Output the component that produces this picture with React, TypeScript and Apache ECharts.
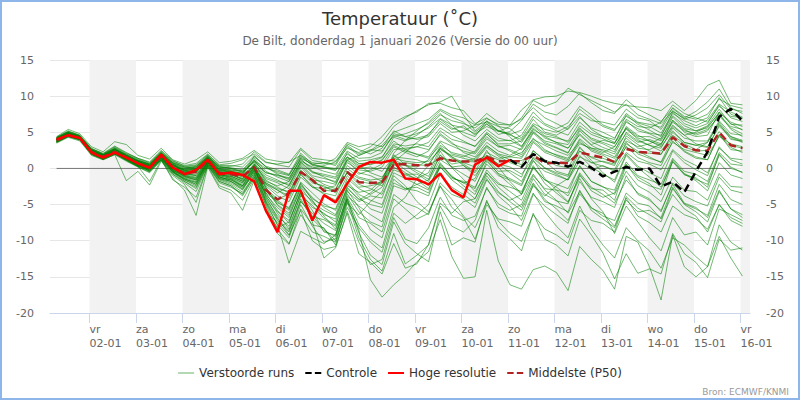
import React, { useEffect, useRef } from "react";
import * as echarts from "echarts";

// ---- time axis (hours since 1 Jan 2026 00:00 local) ----
const START_HOUR = 7;
const STEP_HOURS = 6;
const X_MIN = 3.6;
const X_MAX = 364.9;
const DAY_TICKS = [24, 48, 72, 96, 120, 144, 168, 192, 216, 240, 264, 288, 312, 336, 360];
const DAY_NAMES = ["vr", "za", "zo", "ma", "di", "wo", "do", "vr", "za", "zo", "ma", "di", "wo", "do", "vr"];
const DAY_DATES = ["02-01", "03-01", "04-01", "05-01", "06-01", "07-01", "08-01", "09-01", "10-01", "11-01", "12-01", "13-01", "14-01", "15-01", "16-01"];
const SHADED_BANDS: [number, number][] = [[24, 48], [72, 96], [120, 144], [168, 192], [216, 240], [264, 288], [312, 336], [360, X_MAX]];
const ZERO_LINE_END_INDEX = 58;

// ---- y axis ----
const Y_MIN = -20;
const Y_MAX = 15;
const Y_STEP = 5;

// ---- series values ----
const HRES = [4.0, 4.6, 4.2, 2.2, 1.5, 2.2, 1.5, 0.7, 0.1, 1.9, 0.1, -0.8, -0.2, 1.2, -0.8, -0.55, -0.9, -1.8, -5.8, -8.8, -3.1, -3.1, -7.2, -3.7, -4.7, -2.1, 0.2, 0.9, 0.8, 1.2, -1.4, -1.5, -2.2, -0.7, -3.0, -4.0, 0.55, 1.5, 0.3, 1.2];

const CONTROL_START_INDEX = 39;
const CONTROL = [1.2, 0.2, 2.0, 1.0, 0.8, 0.25, 0.9, 0.1, -1.1, -0.45, 0.2, -0.2, 0.0, -2.5, -1.85, -3.3, -0.4, 2.3, 7.15, 8.25, 6.55];

const P50 = [3.9, 4.6, 4.2, 2.3, 1.6, 2.3, 1.5, 0.7, 0.1, 1.7, 0.1, -0.7, -0.5, 1.1, -0.6, -0.8, -1.1, 0.2, -3.0, -4.3, -3.4, -0.5, -1.6, -3.1, -3.1, -0.5, -1.9, -2.0, -1.9, 0.5, 0.6, 0.45, 0.45, 1.4, 1.1, 0.95, 1.0, 1.6, 1.0, 1.0, 1.0, 1.8, 0.7, 0.8, 0.7, 2.2, 1.85, 1.5, 0.9, 2.7, 2.3, 2.2, 2.05, 4.3, 3.1, 2.5, 2.45, 5.0, 3.2, 2.8];

const PERTURBED: number[][] = [
  [4.2, 5.0, 4.5, 2.6, 1.9, 2.8, 1.9, 1.2, 0.6, 2.2, 0.8, 0.2, 0.4, 1.8, 0.1, 0.3, 0.6, 2.3, 0.9, 0.5, 0.2, 2.6, 1.1, 0.8, 0.4, 3.0, 1.8, 2.5, 3.6, 5.8, 7.0, 8.0, 8.8, 9.2, 10.0, 7.4, 5.2, 6.5, 5.8, 5.5, 4.2, 6.8, 5.0, 4.6, 5.5, 8.2, 6.9, 5.8, 5.2, 7.6, 6.4, 6.1, 5.7, 8.4, 7.2, 6.8, 7.5, 9.6, 8.7, 8.3],
  [3.8, 4.6, 4.2, 2.2, 1.5, 2.6, 1.8, 1.0, 0.3, 2.0, 0.5, -0.2, 0.1, 1.6, -0.1, -0.3, -0.7, 1.2, -0.9, -1.6, -2.4, 0.9, -0.5, -0.8, -1.2, 2.2, 0.6, 0.9, 1.5, 4.3, 3.8, 4.6, 5.8, 7.4, 6.6, 6.2, 5.6, 6.9, 6.1, 6.0, 8.1, 9.5, 9.9, 10.0, 10.7, 10.5, 10.0, 9.4, 9.0, 8.7, 8.5, 8.4, 8.0, 9.3, 8.0, 9.4, 11.5, 12.2, 9.0, 8.8],
  [3.6, 4.4, 4.0, 2.0, 1.3, 2.1, 1.2, 0.4, -0.2, 1.4, -0.4, -1.5, -1.9, 0.9, -1.2, -1.6, -2.4, 0.2, -3.8, -6.2, -8.4, -3.6, -5.8, -8.8, -9.2, -4.4, -8.5, -15.4, -17.8, -16.1, -14.7, -12.9, -11.5, -7.1, -12.2, -15.2, -15.0, -5.8, -12.8, -16.1, -16.7, -14.0, -13.5, -14.4, -16.9, -10.8, -12.6, -14.1, -16.7, -9.4, -10.2, -13.6, -18.2, -9.2, -13.6, -15.0, -13.6, -9.4, -12.4, -14.9],
  [3.9, 4.7, 4.2, 2.3, 1.6, 2.3, 1.4, 0.6, 0.0, 1.5, -0.2, -1.0, -1.4, 1.0, -0.9, -1.2, -2.0, 0.3, -4.6, -7.8, -13.1, -8.7, -9.6, -10.4, -9.2, -3.5, -6.0, -7.4, -8.1, -2.4, -3.0, -2.2, -1.6, 1.8, 0.6, 0.9, 1.4, 3.2, 1.9, 1.2, 0.5, 3.6, 2.2, 1.6, 1.0, 3.9, 2.4, 1.8, 0.9, 4.5, 3.3, 2.4, 1.9, 5.0, 3.6, 3.2, 2.9, 6.0, 4.4, 3.7],
  [4.1, 4.9, 4.4, 2.5, 1.8, 2.5, 1.7, 0.8, 0.2, 1.7, 0.1, -0.7, -1.0, 1.1, -0.6, -0.9, -1.5, 0.4, -2.6, -5.1, -6.5, -2.8, -7.4, -12.4, -11.0, -5.9, -10.2, -13.3, -12.6, -6.8, -9.8, -10.4, -8.2, -4.0, -6.5, -7.2, -6.6, -2.8, -4.9, -5.8, -5.0, -1.4, -3.6, -4.5, -4.9, -0.8, -3.1, -4.0, -3.4, 0.6, -1.6, -2.4, -2.9, 1.2, -0.7, -1.5, -2.2, 1.8, 0.2, -0.6],
  [4.3, 5.2, 4.6, 2.8, 2.0, 3.0, 2.1, 1.4, 0.8, 2.4, 1.0, 0.4, 0.7, 2.0, 0.5, 0.7, 1.2, 2.0, 0.8, 0.6, 0.9, 1.8, 0.4, 0.1, -0.3, 1.6, 0.7, 0.5, 1.1, 3.2, 2.4, 2.0, 1.6, 3.8, 3.1, 2.4, 2.0, 4.1, 3.0, 2.6, 1.9, 4.9, 3.4, 2.8, 2.1, 5.2, 3.7, 2.9, 2.3, 5.8, 4.6, 3.8, 3.2, 6.7, 5.0, 4.4, 4.6, 7.8, 6.2, 5.3],
  [3.7, 4.5, 4.1, 2.1, 1.4, 2.2, 1.3, 0.5, -0.1, 1.6, -0.3, -1.2, -1.6, 0.8, -1.1, -1.8, -2.9, -0.2, -3.1, -4.4, -5.6, -1.9, -3.4, -4.9, -5.8, -2.1, -3.9, -5.6, -6.2, -1.5, -2.8, -3.1, -3.8, 0.4, -1.2, -2.0, -2.8, 1.0, -0.7, -1.4, -2.2, 1.6, 0.1, -0.6, -1.1, 2.4, 0.8, 0.3, -0.2, 3.1, 1.5, 0.8, 0.4, 3.8, 2.3, 1.4, 1.2, 4.6, 2.9, 2.2],
  [3.5, 4.3, 3.8, 1.8, 1.2, 1.9, -1.7, -0.4, -2.3, 1.0, -1.0, -2.2, -4.7, 0.4, -2.0, -2.6, -3.5, -0.9, -5.2, -9.0, -10.5, -5.6, -7.8, -8.2, -10.6, -4.8, -6.4, -4.6, -3.2, 0.9, 2.2, 3.6, 4.8, 6.5, 5.4, 5.9, 4.6, 6.1, 5.2, 4.7, 5.3, 7.8, 6.2, 5.5, 6.3, 8.6, 7.4, 6.0, 5.4, 7.2, 6.3, 5.8, 4.9, 7.6, 6.6, 5.9, 6.7, 8.9, 7.8, 7.1],
  [3.9, 4.6, 4.1, 2.2, 1.5, 2.1, 1.1, 0.2, -0.5, 1.2, -1.4, -3.0, -6.5, 0.2, -2.7, -3.4, -5.8, -1.6, -6.1, -7.4, -9.3, -4.5, -6.7, -7.1, -8.0, -3.2, -4.6, -3.8, -4.1, 0.2, -0.9, -1.4, -0.6, 2.8, 1.4, 0.6, -0.4, 2.5, 0.2, -1.8, -3.5, 0.4, -2.1, -3.4, -4.7, -1.0, -2.8, -3.0, -4.4, 0.5, -1.2, -2.1, -3.7, 1.0, -0.9, -1.3, -2.6, 2.0, 0.0, -0.5],
  [4.0, 4.8, 4.3, 2.4, 1.7, 2.6, 1.7, 0.9, 0.3, 1.9, 0.4, -0.3, -0.1, 1.4, -0.2, -0.4, -0.8, 1.0, -0.6, -0.9, -1.3, 1.2, 0.0, 0.4, 0.9, 2.8, 2.2, 3.0, 4.4, 6.3, 7.2, 7.8, 9.0, 9.0, 8.4, 8.0, 6.2, 7.0, 5.9, 4.3, 3.1, 5.2, 3.6, 2.9, 2.2, 4.8, 3.3, 3.9, 3.5, 6.6, 5.2, 4.8, 4.0, 7.1, 5.5, 5.2, 5.9, 8.2, 6.1, 6.0],
  [4.1, 4.8, 4.2, 2.3, 1.6, 2.3, 1.5, 0.8, 0.2, 1.7, 0.2, -0.6, -0.4, 1.2, -0.5, -0.7, -1.1, 0.3, -2.8, -4.2, -3.6, -0.4, -1.5, -3.0, -3.2, -0.6, -1.8, -2.1, -1.9, 0.6, 0.8, 0.5, 0.4, 1.5, 1.1, 1.0, 0.9, 1.8, 1.2, 1.0, 1.1, 2.0, 0.9, 0.8, 0.9, 2.4, 1.6, 1.4, 0.8, 2.9, 2.2, 2.1, 2.0, 4.4, 3.0, 2.4, 2.5, 5.1, 3.2, 2.8],
  [4.2, 4.9, 4.3, 2.5, 1.8, 2.4, 1.6, 0.9, 0.5, 2.1, 0.6, -0.2, -0.6, 1.4, -0.3, -0.5, -0.9, 1.7, 0.2, -0.8, -1.6, 1.4, -0.4, -1.2, -2.0, 1.1, -0.6, -1.0, -1.8, 1.9, 0.5, -0.3, -1.1, 2.4, 0.1, -1.5, -3.2, -0.6, -2.6, -4.0, -5.4, -2.0, -4.3, -5.6, -7.2, -3.5, -5.5, -6.2, -8.0, -4.1, -6.6, -7.5, -8.8, -5.2, -6.4, -7.0, -8.4, -5.0, -6.8, -7.6],
  [3.8, 4.7, 4.2, 2.2, 1.6, 2.3, 1.5, 0.7, 0.1, 1.6, 0.0, -0.9, -1.2, 1.0, -0.8, -1.1, -1.7, 0.2, -3.4, -5.8, -7.6, -3.1, -4.5, -6.4, -7.0, -2.4, -3.3, -3.0, -1.6, 2.1, 3.9, 5.2, 6.4, 8.0, 7.1, 6.4, 5.0, 6.2, 4.7, 5.1, 6.6, 8.9, 7.8, 7.4, 8.6, 10.4, 9.1, 8.0, 7.6, 9.5, 8.2, 7.4, 6.5, 8.3, 7.0, 7.9, 9.2, 11.0, 8.4, 7.6],
  [3.6, 4.5, 4.0, 2.0, 1.3, 2.0, 1.2, 0.3, -0.3, 1.3, -0.5, -1.6, -2.4, 0.6, -1.5, -2.0, -3.0, -0.6, -4.8, -7.8, -9.6, -5.0, -8.0, -10.2, -9.7, -4.2, -8.9, -12.0, -13.3, -7.4, -10.4, -11.8, -12.9, -6.0, -10.6, -9.6, -10.2, -4.4, -8.2, -9.7, -11.4, -6.2, -9.8, -10.6, -12.1, -7.0, -9.2, -11.7, -15.3, -11.8, -14.5, -13.9, -14.6, -9.0, -11.8, -13.0, -15.1, -9.8, -11.3, -11.0],
  [4.4, 5.4, 4.8, 3.0, 2.3, 3.7, 3.3, 1.8, 1.3, 2.8, 1.2, 0.6, 1.2, 2.3, 0.8, 1.0, 1.4, 2.5, 1.3, 1.0, 0.8, 2.8, 1.4, 1.2, 1.0, 3.2, 2.0, 2.6, 2.4, 4.6, 4.0, 4.2, 4.6, 6.8, 5.6, 5.0, 4.4, 6.6, 5.2, 4.8, 3.6, 5.9, 4.5, 4.2, 3.8, 6.4, 5.0, 4.4, 4.0, 7.4, 6.1, 5.3, 4.4, 7.8, 6.2, 5.6, 6.2, 8.8, 7.0, 6.5],
  [4.0, 4.7, 4.2, 2.3, 1.6, 2.2, 1.4, 0.6, 0.0, 1.5, -0.1, -0.9, -0.8, 1.1, -0.9, -1.1, -1.8, -0.3, -2.2, -3.0, -4.1, -0.8, -2.4, -3.6, -4.4, -1.0, -2.6, -2.4, -2.0, 1.2, 0.4, -0.6, -1.5, 1.9, 0.2, -0.8, -1.8, 1.4, -0.4, -0.3, -1.2, 2.5, 1.0, -0.4, -0.9, 3.0, 1.1, -0.6, -1.9, 1.8, 0.1, -1.2, -2.6, 0.9, -0.8, -1.7, -3.1, 0.8, -0.9, -1.4],
  [3.7, 4.4, 4.0, 2.1, 1.3, 2.0, 1.3, 0.4, -0.3, 1.2, -0.6, -1.8, -2.6, 0.5, -1.6, -2.2, -3.3, -1.0, -4.2, -6.6, -8.0, -3.8, -5.1, -6.9, -7.8, -3.0, -5.4, -8.5, -9.6, -4.2, -5.6, -7.0, -6.2, -2.5, -4.3, -6.6, -8.2, -4.6, -7.3, -9.0, -10.1, -6.4, -8.4, -9.2, -10.4, -5.8, -7.2, -7.6, -8.8, -3.9, -5.5, -6.4, -7.4, -2.8, -4.9, -5.6, -6.5, -2.2, -4.3, -5.0],
  [4.2, 4.9, 4.4, 2.5, 1.7, 2.5, 1.6, 1.0, 0.5, 2.0, 0.7, 0.0, 0.3, 1.5, 0.2, 0.1, -0.2, 1.6, 0.3, -0.2, -0.8, 2.1, 0.6, 0.2, 0.0, 2.4, 1.4, 1.5, 2.2, 4.8, 4.4, 4.8, 5.6, 6.9, 6.0, 5.6, 4.8, 5.8, 5.1, 5.8, 7.0, 9.4, 8.6, 9.2, 11.1, 10.2, 9.4, 8.6, 7.8, 8.9, 7.4, 6.8, 6.2, 7.9, 6.9, 6.4, 7.0, 9.8, 7.5, 6.9],
  [3.8, 4.6, 4.1, 2.1, 1.5, 2.0, 1.3, 0.5, -0.2, 1.4, -0.4, -1.3, -1.8, 0.7, -1.3, -1.5, -2.6, -0.4, -4.0, -6.8, -9.2, -5.8, -10.0, -11.2, -10.8, -6.2, -11.8, -13.0, -14.6, -10.4, -13.8, -13.2, -10.5, -4.8, -6.2, -4.6, -4.2, -0.6, -2.2, -2.6, -3.2, 0.0, -1.6, -2.2, -2.8, 0.3, -1.8, -2.5, -3.6, -0.4, -2.4, -3.3, -4.6, -1.2, -3.0, -3.2, -4.4, -0.7, -2.5, -2.6],
  [4.1, 4.8, 4.4, 2.6, 1.9, 2.7, 1.9, 1.1, 0.6, 2.2, 0.7, -0.1, 0.2, 1.7, 0.3, 0.0, -0.4, 0.9, -1.2, -1.8, -2.2, 0.6, -1.0, -1.4, -1.8, 1.5, 0.2, 0.6, 1.2, 3.4, 3.1, 3.4, 3.0, 5.2, 4.0, 3.6, 3.1, 5.0, 3.8, 3.9, 3.0, 5.6, 4.2, 3.6, 3.3, 5.9, 4.7, 4.1, 3.4, 6.4, 5.5, 4.9, 4.6, 7.3, 5.9, 5.2, 5.6, 7.8, 6.4, 5.8],
  [3.9, 4.6, 4.0, 2.0, 1.4, 2.2, 1.4, 0.6, 0.1, 1.6, -0.2, -1.1, -1.5, 0.9, -1.0, -1.4, -2.2, -0.1, -2.6, -4.8, -5.4, -2.2, -4.0, -5.4, -6.4, -1.8, -3.6, -4.4, -5.0, -0.6, -1.4, -2.2, -3.0, 0.6, -1.0, -2.4, -3.6, -0.2, -2.0, -3.2, -4.4, -1.0, -2.8, -3.0, -3.4, 0.4, -1.8, -2.6, -3.0, 0.9, -1.0, -1.6, -2.2, 1.4, -0.4, -0.8, -1.8, 2.2, 0.6, 0.4],
  [4.3, 5.1, 4.5, 2.7, 2.0, 2.9, 2.0, 1.3, 0.7, 2.3, 0.9, 0.2, 0.0, 1.6, 0.0, -0.2, -0.5, 0.8, -1.8, -2.4, -1.8, 1.0, 0.2, -0.4, -0.8, 1.6, 0.4, -0.6, -1.2, 1.0, -0.2, -1.2, -2.4, 0.2, -1.6, -2.8, -4.2, -1.0, -3.2, -4.6, -5.8, -2.4, -3.8, -2.4, -1.4, 1.6, 0.8, 1.0, 0.6, 3.4, 2.4, 1.6, 0.8, 3.6, 2.6, 2.2, 1.8, 4.4, 3.4, 3.0],
  [3.7, 4.5, 4.0, 2.0, 1.4, 2.1, 1.2, 0.3, -1.8, 1.2, -1.6, -2.6, -4.0, 0.3, -2.4, -3.0, -4.4, -1.4, -5.8, -8.2, -7.4, -3.2, -6.6, -8.4, -10.0, -5.4, -8.2, -10.2, -11.6, -6.2, -7.6, -6.4, -5.0, -0.8, -2.6, -3.6, -4.8, -1.4, -3.8, -5.2, -7.2, -3.4, -6.0, -8.0, -9.6, -5.2, -8.4, -10.6, -12.4, -8.2, -10.0, -11.4, -13.8, -9.6, -10.6, -12.2, -13.6, -7.8, -10.2, -11.3],
  [4.0, 4.8, 4.3, 2.4, 1.7, 2.4, 1.6, 0.8, 0.3, 1.8, 0.4, -0.5, -0.3, 1.3, -0.4, -0.6, -1.2, 0.0, -2.2, -3.4, -2.4, 0.4, -1.2, -2.2, -2.8, 0.0, -1.2, -1.6, -1.4, 1.4, 1.0, 0.8, 1.0, 2.6, 1.8, 1.4, 1.0, 2.9, 1.7, 0.8, 0.2, 2.4, 1.2, 0.4, 0.1, 2.8, 1.5, 0.9, 0.4, 3.6, 2.0, 1.4, 0.9, 4.2, 2.4, 1.6, 1.2, 4.7, 2.6, 2.4],
  [4.2, 5.0, 4.4, 2.6, 1.9, 2.8, 1.8, 1.1, 0.5, 2.1, 0.6, -0.3, 0.0, 1.5, -0.2, -0.4, -0.9, 0.5, -2.0, -3.0, -3.8, -0.8, -2.6, -2.8, -2.4, 1.2, 1.8, 2.4, 3.2, 5.0, 5.6, 6.2, 6.8, 8.2, 7.4, 7.0, 6.0, 6.4, 5.2, 4.6, 4.0, 6.2, 5.4, 5.0, 5.8, 7.6, 6.6, 6.4, 6.0, 8.2, 7.0, 6.6, 5.4, 8.0, 6.8, 7.4, 8.4, 10.2, 8.2, 7.9],
  [3.8, 4.6, 4.1, 2.1, 1.4, 2.1, 1.3, 0.4, -0.1, 1.5, -0.4, -1.4, -2.0, 0.8, -1.4, -1.8, -2.8, -0.6, -4.4, -7.0, -8.6, -4.6, -6.2, -7.6, -8.6, -3.8, -5.2, -6.4, -7.4, -2.0, -2.8, -2.6, -3.4, 0.2, -1.4, -1.8, -2.6, 0.6, -1.0, -1.6, -2.4, 1.0, -0.4, -1.0, -1.6, 1.8, 0.2, -0.8, -1.6, 2.0, 0.3, -0.6, -1.4, 2.4, 0.8, -0.2, -1.0, 3.0, 1.2, 0.6],
  [4.1, 4.9, 4.4, 2.5, 1.8, 2.6, 1.7, 1.0, 0.4, 1.9, 0.5, -0.4, -0.2, 1.4, -0.3, -0.5, -0.6, 1.1, 0.0, -0.4, -0.9, 1.6, 0.5, 0.2, -0.2, 2.0, 1.0, 1.2, 1.6, 3.8, 2.6, 1.9, 1.4, 3.2, 2.2, 1.8, 1.2, 3.1, 2.0, 1.6, 1.4, 3.8, 2.4, 1.9, 1.4, 4.1, 2.8, 2.6, 2.0, 5.0, 3.8, 3.2, 2.8, 5.6, 4.2, 3.8, 3.8, 6.6, 4.8, 4.6],
  [3.6, 4.4, 3.9, 1.9, 1.2, 1.9, 1.0, 0.2, -0.6, 1.1, -0.8, -2.0, -3.2, 0.4, -1.8, -2.4, -3.6, -1.2, -5.0, -8.4, -10.4, -6.4, -8.8, -9.4, -10.2, -4.6, -9.6, -12.6, -14.2, -9.0, -13.2, -12.0, -10.6, -5.2, -8.0, -8.8, -7.2, -2.6, -5.4, -6.2, -6.6, -2.2, -4.6, -5.2, -6.0, -1.8, -4.0, -4.6, -5.4, -1.0, -3.6, -4.4, -5.8, -2.2, -4.8, -5.4, -6.8, -3.0, -5.6, -6.4],
  [4.0, 4.7, 4.2, 2.3, 1.6, 2.4, 1.5, 0.7, 0.2, 1.7, 0.2, -0.6, -0.5, 1.2, -0.6, -0.8, -1.4, 0.6, -1.4, -2.0, -2.8, 0.2, -1.6, -1.8, -2.2, 0.8, -0.2, -0.4, 0.2, 2.6, 2.8, 3.0, 2.6, 4.6, 3.4, 2.8, 2.2, 4.4, 3.0, 3.2, 2.6, 5.0, 3.8, 3.4, 2.8, 5.4, 4.2, 3.6, 3.0, 5.6, 4.4, 4.4, 3.8, 6.4, 5.2, 4.8, 5.4, 7.2, 5.6, 4.8],
  [3.9, 4.7, 4.1, 2.2, 1.5, 2.3, 1.4, 0.6, 0.0, 1.5, -0.3, -1.0, -1.3, 1.0, -0.8, -1.3, -2.0, 0.0, -3.6, -5.4, -6.8, -2.6, -4.8, -5.8, -6.6, -2.8, -4.2, -5.0, -5.4, -1.0, -2.4, -4.6, -6.0, -2.4, -5.4, -6.8, -9.8, -5.0, -7.0, -7.4, -8.0, -3.6, -5.2, -6.4, -7.6, -3.0, -5.8, -7.0, -8.2, -4.4, -6.0, -5.8, -6.8, -2.6, -5.0, -6.0, -7.4, -3.2, -5.6, -6.8],
  [4.0, 4.9, 4.3, 2.4, 1.8, 2.7, 1.8, 1.0, 0.4, 2.0, 0.5, -0.4, -0.5, 1.3, -0.5, -0.8, -1.4, 0.6, -1.6, -2.6, -3.4, -0.2, -1.8, -2.6, -3.0, 0.4, -0.8, -0.2, 0.6, 3.0, 2.2, 1.6, 2.4, 4.8, 3.6, 2.2, 1.6, 3.6, 2.4, 1.8, 2.8, 5.4, 4.4, 3.6, 2.8, 4.6, 3.2, 2.4, 1.6, 4.2, 2.8, 2.6, 3.4, 6.0, 4.6, 3.4, 3.0, 5.8, 4.2, 3.6],
  [3.8, 4.6, 4.1, 2.2, 1.5, 2.2, 1.4, 0.5, -0.4, 1.4, -0.6, -1.4, -2.2, 0.8, -1.2, -1.6, -2.4, -0.4, -3.0, -5.0, -6.2, -2.4, -4.2, -5.2, -5.6, -1.4, -2.8, -3.6, -2.6, 0.8, 0.4, 0.2, 1.2, 3.6, 2.0, 1.6, 2.4, 4.8, 3.2, 2.4, 1.6, 4.2, 2.6, 1.8, 1.2, 3.4, 2.8, 2.2, 3.0, 5.6, 4.0, 3.2, 2.4, 4.6, 3.4, 2.6, 3.6, 6.4, 4.4, 3.9],
  [4.3, 5.1, 4.6, 2.7, 2.1, 3.1, 2.2, 1.4, 0.9, 2.5, 1.1, 0.3, 0.5, 1.9, 0.4, 0.4, 0.2, 1.8, 0.2, -0.6, -1.0, 1.8, 0.8, 0.6, 1.4, 3.6, 3.0, 3.4, 3.0, 4.4, 4.8, 5.4, 6.2, 7.6, 6.0, 4.6, 3.8, 5.4, 4.2, 3.8, 4.6, 7.2, 6.0, 5.2, 4.6, 7.0, 5.6, 5.0, 4.2, 6.8, 5.8, 5.6, 6.4, 8.8, 7.6, 7.0, 6.4, 8.6, 7.2, 7.0],
  [3.7, 4.5, 4.0, 2.0, 1.3, 2.0, 1.1, 0.3, -0.4, 1.2, -0.8, -1.8, -2.8, 0.5, -1.8, -2.4, -3.8, -1.2, -4.6, -7.2, -8.8, -4.2, -7.0, -8.6, -9.4, -4.0, -6.8, -7.6, -8.8, -3.6, -4.8, -5.4, -6.4, -2.0, -3.6, -4.2, -5.4, -1.6, -3.4, -4.4, -3.6, 0.2, -1.6, -2.6, -3.8, -0.6, -2.6, -3.6, -4.8, -1.6, -3.4, -4.2, -6.0, -2.0, -3.8, -4.6, -5.2, -1.2, -3.0, -3.4],
  [4.1, 4.9, 4.5, 2.6, 1.9, 2.6, 1.7, 0.9, 0.3, 1.8, 0.4, -0.2, -0.1, 1.5, -0.1, -0.2, -0.3, 1.4, -0.4, -1.2, -1.8, 0.8, -0.6, -1.0, -1.4, 1.2, 0.0, 0.2, -0.4, 1.6, 1.4, 1.2, 0.6, 2.8, 1.6, 0.8, 0.2, 2.2, 1.4, 1.6, 2.2, 4.0, 3.2, 2.4, 1.8, 3.6, 2.6, 2.0, 1.4, 3.8, 3.0, 3.4, 4.2, 6.6, 5.4, 4.6, 5.2, 7.4, 5.8, 5.4],
  [4.0, 4.7, 4.2, 2.3, 1.6, 2.4, 1.6, 0.8, 0.3, 1.9, 0.3, -0.5, -0.6, 1.3, -0.6, -0.8, -1.6, 0.4, -2.4, -3.8, -4.6, -1.2, -2.6, -3.4, -3.8, -0.4, -1.4, -1.8, -2.4, 0.6, -0.6, -1.6, -2.8, 0.8, -1.2, -2.0, -1.4, 1.8, 0.6, -0.6, -1.8, 1.2, -1.4, -3.0, -4.6, -1.4, -4.2, -6.0, -9.0, -5.2, -7.4, -9.6, -11.4, -6.8, -9.2, -8.8, -10.6, -5.6, -6.4, -7.2],
  [4.2, 5.0, 4.4, 2.5, 1.8, 2.7, 1.8, 1.1, 0.6, 2.1, 0.8, 0.1, 0.2, 1.7, 0.2, 0.0, -0.5, 1.1, -0.6, -1.0, -1.4, 1.4, 0.6, 0.8, 0.6, 3.4, 2.6, 2.0, 2.8, 5.2, 4.4, 4.0, 4.4, 6.2, 5.0, 5.2, 6.0, 7.6, 6.4, 6.0, 6.8, 8.4, 7.0, 6.2, 5.4, 7.2, 5.4, 4.4, 3.6, 5.4, 4.2, 3.8, 3.0, 5.2, 3.6, 3.2, 3.6, 6.2, 4.0, 3.8],
  [3.8, 4.6, 4.1, 2.1, 1.5, 2.3, 1.4, 0.6, 0.0, 1.6, -0.2, -1.1, -1.6, 0.9, -1.0, -1.4, -2.4, -0.2, -3.8, -6.0, -7.2, -3.4, -5.4, -6.2, -7.4, -2.6, -4.4, -3.4, -2.0, 1.6, 2.6, 3.0, 3.6, 5.6, 4.6, 3.8, 3.0, 4.8, 3.4, 3.4, 3.8, 6.0, 4.8, 4.4, 3.6, 5.6, 4.0, 3.4, 2.6, 4.8, 3.6, 4.0, 3.4, 5.8, 4.6, 5.0, 5.8, 7.6, 5.4, 4.4],
  [3.9, 4.7, 4.2, 2.2, 1.6, 2.3, 1.5, 0.7, 0.1, 1.6, 0.0, -0.8, -1.0, 1.0, -0.7, -1.0, -1.8, 0.0, -2.0, -2.8, -3.2, -0.4, -2.0, -2.4, -3.4, -0.6, -2.2, -2.8, -3.6, -0.2, -0.8, -0.8, -1.8, 1.2, 0.2, 0.4, -0.6, 1.6, 0.6, 0.2, -0.8, 1.4, 0.0, -0.8, -1.6, 1.0, -0.2, 0.4, -0.4, 2.2, 1.0, 0.6, -0.2, 2.6, 1.2, 0.4, -0.6, 2.8, 1.4, 1.2],
  [3.7, 4.5, 4.0, 2.0, 1.4, 2.1, 1.2, 0.4, -0.2, 1.3, -0.5, -1.6, -2.2, 0.6, -1.4, -1.8, -2.6, -0.8, -3.4, -4.6, -5.8, -2.0, -4.4, -6.6, -8.4, -4.2, -7.8, -9.8, -11.0, -5.4, -4.0, -1.4, 0.4, 3.0, 1.6, 0.4, -1.0, 1.2, -0.8, -2.2, -3.6, -0.8, -3.0, -4.4, -6.2, -3.2, -5.4, -6.6, -7.2, -3.4, -4.8, -5.2, -7.0, -3.6, -5.6, -6.6, -8.8, -5.0, -7.2, -8.0],
];

const hourAt = (i: number) => START_HOUR + STEP_HOURS * i;
const toPairs = (vals: (number | null)[], offset = 0) => vals.map((v, k) => [hourAt(k + offset), v]);

const FONT = "DejaVu Sans";
const ICON_SOLID = "path://M0,0H16V2H0Z";
const ICON_DASH = "path://M0,0H6V2H0ZM9,0H15V2H9Z";

export default function App() {
  const ref = useRef<HTMLDivElement>(null);

  useEffect(() => {
    document.body.style.margin = "0";
    if (!ref.current) return;
    const chart = echarts.init(ref.current, undefined, { renderer: "svg" });

    const memberSeries = PERTURBED.map((m) => ({
      name: "Verstoorde runs",
      type: "line",
      data: toPairs(m),
      symbol: "none",
      silent: true,
      z: 3,
      color: "#b3d9b3",
      lineStyle: { color: "rgba(0,128,0,0.55)", width: 1 },
      emphasis: { disabled: true },
    }));

    const option: any = {
      animation: false,
      textStyle: { fontFamily: FONT },
      title: {
        text: "Temperatuur (˚C)",
        subtext: "De Bilt, donderdag 1 januari 2026 (Versie do 00 uur)",
        left: "center",
        top: 4,
        itemGap: 8,
        textStyle: { fontSize: 18, fontWeight: "normal", color: "#333", fontFamily: FONT },
        subtextStyle: { fontSize: 12, color: "#666", fontFamily: FONT },
      },
      legend: {
        top: 362,
        left: "center",
        itemWidth: 16,
        itemHeight: 12,
        itemGap: 11,
        textStyle: { fontSize: 12, color: "#333", fontFamily: FONT },
        data: [
          { name: "Verstoorde runs", icon: ICON_SOLID, itemStyle: { color: "#b3d9b3", opacity: 1, borderWidth: 0 } },
          { name: "Controle", icon: ICON_DASH, itemStyle: { color: "#000", borderWidth: 0 } },
          { name: "Hoge resolutie", icon: ICON_SOLID, itemStyle: { color: "#ff0000", borderWidth: 0 } },
          { name: "Middelste (P50)", icon: ICON_DASH, itemStyle: { color: "#b22222", borderWidth: 0 } },
        ],
      },
      grid: { left: 50, right: 50, top: 60, bottom: 87 },
      xAxis: {
        type: "value",
        min: X_MIN,
        max: X_MAX,
        splitLine: { show: false },
        axisLine: { show: true, onZero: false, lineStyle: { color: "#ccd6eb" } },
        axisTick: { show: true, customValues: DAY_TICKS, length: 10, lineStyle: { color: "#ccd6eb" } },
        axisLabel: {
          customValues: DAY_TICKS,
          align: "left",
          margin: 9,
          lineHeight: 14,
          fontSize: 11,
          color: "#666",
          fontFamily: FONT,
          formatter: (v: number) => {
            const k = DAY_TICKS.indexOf(Math.round(v));
            return k >= 0 ? DAY_NAMES[k] + "\n" + DAY_DATES[k] : "";
          },
        },
      },
      yAxis: [
        {
          type: "value",
          min: Y_MIN,
          max: Y_MAX,
          interval: Y_STEP,
          axisLine: { show: false },
          axisTick: { show: false },
          splitLine: { lineStyle: { color: "#e6e6e6" } },
          axisLabel: { color: "#666", fontSize: 11, margin: 16, fontFamily: FONT },
        },
        {
          type: "value",
          position: "right",
          min: Y_MIN,
          max: Y_MAX,
          interval: Y_STEP,
          axisLine: { show: false },
          axisTick: { show: false },
          splitLine: { show: false },
          axisLabel: { color: "#666", fontSize: 11, margin: 16, fontFamily: FONT },
        },
      ],
      graphic: [
        {
          type: "rect",
          shape: { x: 1, y: 1, width: 798, height: 398 },
          style: { fill: "none", stroke: "#8fb6ea", lineWidth: 2 },
          silent: true,
          z: 100,
        },
        {
          type: "text",
          right: 11,
          top: 387,
          style: { text: "Bron: ECMWF/KNMI", fill: "#999", fontSize: 9, fontFamily: FONT },
          silent: true,
        },
      ],
      series: [
        {
          name: "bands",
          type: "line",
          data: [],
          symbol: "none",
          silent: true,
          z: -1,
          markArea: {
            silent: true,
            itemStyle: { color: "#f2f2f2" },
            data: SHADED_BANDS.map(([a, b]) => [{ xAxis: a }, { xAxis: b }]),
          },
        },
        {
          name: "nul",
          type: "line",
          data: [[hourAt(0), 0], [hourAt(ZERO_LINE_END_INDEX), 0]],
          symbol: "none",
          silent: true,
          z: 2,
          lineStyle: { color: "#777", width: 1 },
        },
        ...memberSeries,
        {
          name: "Middelste (P50)",
          type: "line",
          data: toPairs(P50),
          symbol: "none",
          silent: true,
          z: 4,
          color: "#b22222",
          lineStyle: { color: "#b22222", width: 2.5, type: [8, 5] },
        },
        {
          name: "Controle",
          type: "line",
          data: toPairs(CONTROL, CONTROL_START_INDEX),
          symbol: "none",
          silent: true,
          z: 5,
          color: "#000",
          lineStyle: { color: "#000", width: 2.5, type: [8, 5] },
        },
        {
          name: "Hoge resolutie",
          type: "line",
          data: toPairs(HRES),
          symbol: "none",
          silent: true,
          z: 6,
          color: "#ff0000",
          lineStyle: { color: "#ff0000", width: 2.5 },
        },
      ],
    };

    chart.setOption(option);
    return () => chart.dispose();
  }, []);

  return <div ref={ref} style={{ width: 800, height: 400 }} />;
}
